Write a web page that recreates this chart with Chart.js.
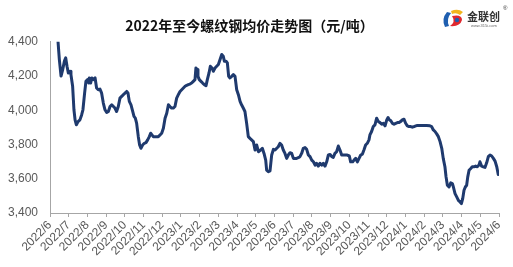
<!DOCTYPE html>
<html>
<head>
<meta charset="utf-8">
<script src="https://cdn.jsdelivr.net/npm/chart.js@4/dist/chart.umd.min.js"></script>
<style>
html,body{margin:0;padding:0;background:#fff;}
canvas{display:block;}
</style>
</head>
<body>
<canvas id="c" width="513" height="267"></canvas>
<script>
const titleText = '2022年至今螺纹钢均价走势图（元/吨）';
const xLabels = ['2022/6','2022/7','2022/8','2022/9','2022/10','2022/11','2022/12','2023/1','2023/2','2023/3','2023/4','2023/5','2023/6','2023/7','2023/8','2023/9','2023/10','2023/11','2023/12','2024/1','2024/2','2024/3','2024/4','2024/5','2024/6'];
const yTicks = [3400,3600,3800,4000,4200,4400];
// position in months after 2022/6 (start of month)
const months = [0.43,0.50,0.59,0.68,0.77,0.84,0.91,0.98,1.07,1.12,1.21,1.28,1.34,1.41,1.50,1.60,1.69,1.76,1.85,1.92,2.00,2.07,2.10,2.17,2.24,2.32,2.41,2.49,2.58,2.67,2.76,2.85,2.94,3.03,3.12,3.21,3.30,3.39,3.47,3.56,3.65,3.74,3.83,3.92,4.01,4.10,4.17,4.24,4.33,4.40,4.49,4.56,4.63,4.72,4.79,4.86,4.95,5.04,5.13,5.22,5.31,5.38,5.45,5.52,5.61,5.70,5.79,5.88,5.97,6.06,6.15,6.24,6.33,6.41,6.50,6.59,6.68,6.77,6.86,6.95,7.04,7.13,7.22,7.31,7.39,7.48,7.57,7.66,7.75,7.80,7.86,7.91,7.98,8.07,8.16,8.25,8.34,8.41,8.50,8.57,8.66,8.73,8.82,8.91,9.00,9.09,9.18,9.26,9.32,9.41,9.48,9.55,9.62,9.71,9.80,9.89,9.98,10.07,10.16,10.24,10.33,10.42,10.51,10.60,10.69,10.87,10.96,11.05,11.14,11.26,11.35,11.44,11.53,11.58,11.67,11.76,11.85,11.94,12.03,12.12,12.20,12.29,12.38,12.47,12.56,12.65,12.74,12.83,12.92,13.01,13.10,13.18,13.27,13.36,13.45,13.54,13.63,13.72,13.81,13.90,13.99,14.08,14.17,14.25,14.34,14.43,14.52,14.61,14.70,14.79,14.88,14.97,15.06,15.14,15.23,15.32,15.41,15.50,15.59,15.68,15.86,16.00,16.07,16.18,16.25,16.34,16.43,16.52,16.61,16.70,16.78,16.87,16.96,17.05,17.10,17.19,17.28,17.37,17.46,17.55,17.64,17.73,17.82,17.91,18.00,18.07,18.14,18.21,18.30,18.39,18.48,18.57,18.66,18.74,18.83,18.92,19.01,19.10,19.19,19.28,19.37,19.46,19.55,19.63,19.78,19.96,20.13,20.31,20.40,20.49,20.58,20.67,20.76,20.85,20.94,21.02,21.11,21.17,21.24,21.33,21.42,21.51,21.56,21.65,21.74,21.83,21.92,21.99,22.06,22.13,22.20,22.27,22.33,22.40,22.49,22.57,22.66,22.75,22.84,22.93,22.98,23.07,23.16,23.25,23.34,23.43,23.52,23.61,23.70,23.79,23.88,23.96];
const prices = [4400,4296,4200,4238,4287,4306,4257,4218,4228,4208,4140,4003,3944,3915,3934,3944,3973,4003,4100,4169,4179,4159,4189,4159,4189,4179,4189,4130,4120,4124,4100,4042,4003,3987,3993,4022,4032,4022,4013,3993,4022,4071,4081,4091,4100,4110,4100,4052,4032,4003,3964,3954,3925,3846,3797,3778,3797,3807,3811,3827,3846,3866,3856,3846,3846,3846,3846,3856,3866,3895,3954,3983,4032,4022,4013,4013,4022,4071,4091,4110,4120,4130,4140,4146,4150,4153,4159,4169,4179,4247,4238,4198,4179,4169,4159,4150,4144,4179,4218,4257,4247,4228,4247,4257,4267,4296,4326,4316,4287,4287,4277,4198,4189,4198,4208,4198,4120,4091,4052,4032,4013,3993,3925,3846,3836,3817,3768,3797,3758,3768,3778,3748,3709,3650,3641,3646,3739,3772,3768,3778,3787,3807,3797,3768,3748,3719,3739,3752,3748,3719,3719,3719,3723,3729,3748,3778,3782,3772,3739,3729,3709,3699,3680,3690,3674,3690,3680,3690,3674,3699,3739,3742,3729,3725,3748,3758,3791,3768,3739,3739,3739,3733,3699,3699,3709,3719,3699,3719,3739,3744,3768,3797,3807,3827,3856,3876,3905,3915,3954,3934,3928,3919,3924,3909,3944,3958,3944,3940,3924,3919,3924,3928,3928,3934,3944,3948,3924,3909,3905,3905,3901,3905,3909,3911,3911,3911,3911,3909,3905,3885,3876,3862,3846,3817,3778,3719,3670,3611,3562,3552,3576,3572,3552,3513,3494,3474,3464,3455,3484,3533,3552,3562,3611,3650,3660,3670,3670,3674,3670,3680,3699,3674,3670,3666,3693,3729,3739,3733,3719,3703,3670,3625];

const logoPlugin = {
  id: 'logo',
  afterDraw(chart) {
    const ctx = chart.ctx;
    ctx.save();
    ctx.fillStyle = '#1f5fb0';
    ctx.beginPath();
    ctx.moveTo(447, 12); ctx.quadraticCurveTo(441, 19, 445, 27); ctx.lineTo(449, 26);
    ctx.quadraticCurveTo(446, 19, 451, 13); ctx.closePath(); ctx.fill();
    ctx.fillStyle = '#f2b51c';
    ctx.beginPath();
    ctx.moveTo(451, 11); ctx.quadraticCurveTo(458, 8, 463, 12); ctx.lineTo(460, 15);
    ctx.quadraticCurveTo(456, 12, 452, 14); ctx.closePath(); ctx.fill();
    ctx.fillStyle = '#e0282e';
    ctx.beginPath();
    ctx.moveTo(452, 16); ctx.quadraticCurveTo(462, 14, 462, 20); ctx.quadraticCurveTo(460, 27, 450, 26);
    ctx.quadraticCurveTo(456, 22, 452, 16); ctx.closePath(); ctx.fill();
    ctx.fillStyle = '#1f5fb0';
    ctx.beginPath(); ctx.arc(457, 20, 2.2, 0, Math.PI * 2); ctx.fill();
    ctx.fillStyle = '#333333';
    ctx.font = "bold 11px 'Noto Sans CJK SC'";
    ctx.textBaseline = 'middle';
    ctx.textAlign = 'left';
    ctx.fillText('金联创', 467, 17);
    ctx.font = "6px 'Liberation Sans'";
    ctx.fillText('®', 503, 8);
    ctx.font = "4px 'Liberation Sans'";
    ctx.fillStyle = '#666';
    ctx.fillText('www.315i.com', 471, 26);
    ctx.restore();
  }
};

new Chart(document.getElementById('c'), {
  type: 'line',
  data: {
    datasets: [{
      data: months.map((m, i) => ({x: m, y: prices[i]})),
      borderColor: '#1f3a6e',
      borderWidth: 3,
      pointRadius: 0,
      tension: 0,
      borderJoinStyle: 'round',
      borderCapStyle: 'round',
      fill: false
    }]
  },
  options: {
    responsive: false,
    animation: false,
    devicePixelRatio: 1,
    layout: { padding: { left: 0, right: 14, top: 0, bottom: 0 } },
    plugins: {
      legend: { display: false },
      tooltip: { enabled: false },
      title: {
        display: true,
        text: titleText,
        color: '#111',
        font: { family: "'Noto Sans CJK SC'", size: 14, weight: 'bold' },
        padding: { top: 17, bottom: 8 }
      }
    },
    scales: {
      x: {
        type: 'linear',
        position: 'bottom',
        min: 0,
        max: xLabels.length - 1,
        afterBuildTicks: (s) => { s.ticks = xLabels.map((_, i) => ({ value: i })); },
        afterFit: (s) => { s.height = 54; },
        ticks: {
          autoSkip: false,
          minRotation: 45,
          maxRotation: 45,
          padding: 1,
          color: '#595959',
          font: { family: "'Liberation Sans'", size: 12 },
          callback: (v) => xLabels[v]
        },
        grid: { drawOnChartArea: false, drawTicks: true, tickLength: 4, color: '#a6a6a6' },
        border: { display: true, color: '#a6a6a6', width: 1 }
      },
      y: {
        min: yTicks[0],
        max: yTicks[yTicks.length - 1],
        afterBuildTicks: (s) => { s.ticks = yTicks.map(v => ({ value: v })); },
        afterFit: (s) => { s.width = 50; },
        ticks: {
          padding: 12,
          color: '#595959',
          font: { family: "'Liberation Sans'", size: 12 },
          callback: (v) => v.toLocaleString('en-US')
        },
        grid: { drawOnChartArea: false, drawTicks: false },
        border: { display: true, color: '#a6a6a6', width: 1 }
      }
    }
  },
  plugins: [logoPlugin]
});
</script>
</body>
</html>
